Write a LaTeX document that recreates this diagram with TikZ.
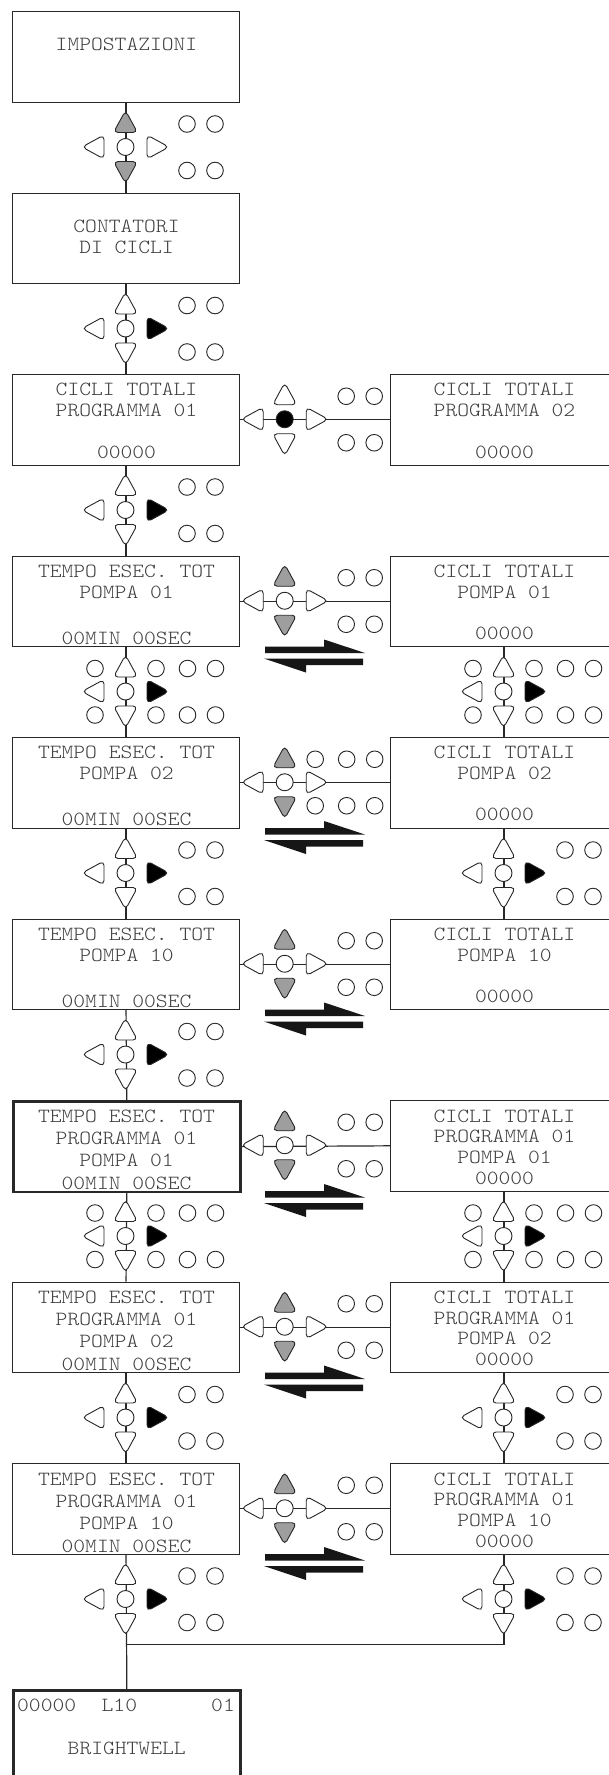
\documentclass[tikz,border=0pt]{standalone}
\usepackage{fontspec}
\newfontfamily\lcd[Extension=.otf,FakeStretch=1.118]{lmmonolt10-regular}
\definecolor{tcol}{RGB}{62,62,62}
\definecolor{lcol}{RGB}{40,40,40}
\definecolor{kgray}{RGB}{158,158,158}
\definecolor{acol}{RGB}{22,22,22}
\tikzset{
  box/.style={draw=lcol, line width=1.1pt, minimum width=227pt, minimum height=90.5pt, inner sep=0pt, anchor=north west},
  thickbox/.style={box, line width=2.7pt},
  txt/.style={font=\lcd\fontsize{20.1}{22}\selectfont, text=tcol, inner sep=0pt, anchor=base},
  txtw/.style={txt, anchor=base west},
  conn/.style={draw=lcol, line width=1.2pt},
  kpl/.style={draw=black!85, line width=0.9pt, rounded corners=4.5pt},
  eqarr/.style={fill=acol},
}
\newcommand\tl[4]{\node[txt] (#1) at (#2,{#3+6.15}) {#4};}
\newcommand\kp[6]{%
  \draw[kpl,fill=#3,shift={(#1,{#2-23.5})}] (0,9) -- (-12,9) -- (0,-13) -- (12,9) -- cycle;
  \draw[kpl,fill=#6,shift={(#1,{#2+23.5})}] (0,-9) -- (-12,-9) -- (0,13) -- (12,-9) -- cycle;
  \draw[kpl,fill=white,shift={({#1-30.5},#2)}] (9,0) -- (9,-12) -- (-13,0) -- (9,12) -- cycle;
  \draw[kpl,fill=#5,shift={({#1+30.5},#2)}] (-9,0) -- (-9,-12) -- (13,0) -- (-9,12) -- cycle;
  \draw[kpl,fill=#4] (#1,#2) circle[radius=8.5];
}
\newcommand\cS[2]{\foreach \dx in {61.5,89.5}{\draw[kpl,fill=white] ({#1+\dx},{#2-23}) circle[radius=8.3]; \draw[kpl,fill=white] ({#1+\dx},{#2+23.5}) circle[radius=8.3];}}
\newcommand\cE[2]{\foreach \dx in {-30.5,30.5,62,90}{\draw[kpl,fill=white] ({#1+\dx},{#2-23}) circle[radius=8.3]; \draw[kpl,fill=white] ({#1+\dx},{#2+23.5}) circle[radius=8.3];}}
\newcommand\cM[2]{\foreach \dx in {30.5,62,90}{\draw[kpl,fill=white] ({#1+\dx},{#2-23}) circle[radius=8.3]; \draw[kpl,fill=white] ({#1+\dx},{#2+23.5}) circle[radius=8.3];}}
\newcommand\eqa[1]{%
  \fill[eqarr] (265,{#1+0.5}) -- (324,{#1+0.5}) -- (324,{#1-6.5}) -- (365,{#1+7}) -- (265,{#1+7}) -- cycle;
  \fill[eqarr] (363,{#1+12.5}) -- (363,{#1+19}) -- (306,{#1+19}) -- (306,{#1+26.5}) -- (264,{#1+12.5}) -- cycle;
}
\begin{document}
\begin{tikzpicture}[x=1pt,y=-1pt]
\useasboundingbox (0,0) rectangle (609,1775);
\clip (0,0) rectangle (609,1775);
\fill[white] (0,0) rectangle (609,1775);

% boxes
\node[box] (L0) at (12,11) {};
\node[box] (L1) at (12,192.5) {};
\node[box] (L2) at (12,374) {};
\node[box] (R2) at (390,374) {};
\node[box] (L3) at (12,555.5) {};
\node[box] (R3) at (390,555.5) {};
\node[box] (L4) at (12,737) {};
\node[box] (R4) at (390,737) {};
\node[box] (L5) at (12,918.5) {};
\node[box] (R5) at (390,918.5) {};
\node[thickbox] (L6) at (12,1100) {};
\node[box] (R6) at (390,1100) {};
\node[box] (L7) at (12,1281.5) {};
\node[box] (R7) at (390,1281.5) {};
\node[box] (L8) at (12,1463) {};
\node[box] (R8) at (390,1463) {};
\node[thickbox, minimum height=130pt] (F) at (12,1689.3) {};

% texts
\tl{t0}{126.5}{44}{IMPOSTAZIONI}
\tl{t1a}{126.5}{226.5}{CONTATORI}
\tl{t1b}{126.5}{247.5}{DI CICLI}
\tl{t2a}{126.5}{389.5}{CICLI TOTALI}
\tl{t2b}{126.5}{410.5}{PROGRAMMA 01}
\tl{t2c}{126.5}{452}{00000}
\tl{u2a}{504.5}{389.5}{CICLI TOTALI}
\tl{u2b}{504.5}{410.5}{PROGRAMMA 02}
\tl{u2c}{504.5}{452}{00000}
\tl{t3a}{126.5}{571}{TEMPO ESEC. TOT}
\tl{t3b}{126.5}{592}{POMPA 01}
\tl{t3c}{126.5}{638}{00MIN 00SEC}
\tl{u3a}{504.5}{571}{CICLI TOTALI}
\tl{u3b}{504.5}{592}{POMPA 01}
\tl{u3c}{504.5}{633}{00000}
\tl{t4a}{126.5}{752.5}{TEMPO ESEC. TOT}
\tl{t4b}{126.5}{773.5}{POMPA 02}
\tl{t4c}{126.5}{819.5}{00MIN 00SEC}
\tl{u4a}{504.5}{752.5}{CICLI TOTALI}
\tl{u4b}{504.5}{773.5}{POMPA 02}
\tl{u4c}{504.5}{814.5}{00000}
\tl{t5a}{126.5}{934}{TEMPO ESEC. TOT}
\tl{t5b}{126.5}{955}{POMPA 10}
\tl{t5c}{126.5}{1001}{00MIN 00SEC}
\tl{u5a}{504.5}{934}{CICLI TOTALI}
\tl{u5b}{504.5}{955}{POMPA 10}
\tl{u5c}{504.5}{996}{00000}
\tl{t6a}{126.5}{1116}{TEMPO ESEC. TOT}
\tl{t6b}{126.5}{1138}{PROGRAMMA 01}
\tl{t6c}{126.5}{1160}{POMPA 01}
\tl{t6d}{126.5}{1183}{00MIN 00SEC}
\tl{u6a}{504.5}{1116}{CICLI TOTALI}
\tl{u6b}{504.5}{1136.5}{PROGRAMMA 01}
\tl{u6c}{504.5}{1157}{POMPA 01}
\tl{u6d}{504.5}{1178}{00000}
\tl{t7a}{126.5}{1297.5}{TEMPO ESEC. TOT}
\tl{t7b}{126.5}{1319.5}{PROGRAMMA 01}
\tl{t7c}{126.5}{1341.5}{POMPA 02}
\tl{t7d}{126.5}{1364.5}{00MIN 00SEC}
\tl{u7a}{504.5}{1297.5}{CICLI TOTALI}
\tl{u7b}{504.5}{1318}{PROGRAMMA 01}
\tl{u7c}{504.5}{1338.5}{POMPA 02}
\tl{u7d}{504.5}{1359.5}{00000}
\tl{t8a}{126.5}{1479}{TEMPO ESEC. TOT}
\tl{t8b}{126.5}{1501}{PROGRAMMA 01}
\tl{t8c}{126.5}{1523}{POMPA 10}
\tl{t8d}{126.5}{1546}{00MIN 00SEC}
\tl{u8a}{504.5}{1479}{CICLI TOTALI}
\tl{u8b}{504.5}{1499.5}{PROGRAMMA 01}
\tl{u8c}{504.5}{1520}{POMPA 10}
\tl{u8d}{504.5}{1541}{00000}
\node[txtw] (f1) at (17,1711.45) {00000};
\node[txtw] (f2) at (101.5,1711.45) {L10};
\node[txtw] (f3) at (211,1711.45) {01};
\tl{f4}{126.7}{1748}{BRIGHTWELL}

% connectors
\draw[conn] (L0.south) -- (L1.north);
\draw[conn] (L1.south) -- (L2.north);
\draw[conn] (L2.south) -- (L3.north);
\draw[conn] (L3.south) -- (L4.north);
\draw[conn] (L4.south) -- (L5.north);
\draw[conn] (L5.south) -- (L6.north);
\draw[conn] (L6.south) -- (L7.north);
\draw[conn] (L7.south) -- (L8.north);
\draw[conn] (L8.south) -- (F.north);
\draw[conn] (R3.south) -- (R4.north);
\draw[conn] (R4.south) -- (R5.north);
\draw[conn] (R6.south) -- (R7.north);
\draw[conn] (R7.south) -- (R8.north);
\coordinate (m) at (125.5,1644.3);
\draw[conn] (R8.south) |- (m);
\draw[conn] (L2.east) -- (R2.west);
\draw[conn] (L3.east) -- (R3.west);
\draw[conn] (L4.east) -- (R4.west);
\draw[conn] (L5.east) -- (R5.west);
\draw[conn] (L6.east) -- (R6.west);
\draw[conn] (L7.east) -- (R7.west);
\draw[conn] (L8.east) -- (R8.west);

% keypads
\kp{125.5}{147}{kgray}{white}{white}{kgray} \cS{125.5}{147}
\kp{125.5}{328.5}{white}{white}{black}{white} \cS{125.5}{328.5}
\kp{284.7}{419.25}{white}{black}{white}{white} \cS{284.7}{419.25}
\kp{125.5}{510}{white}{white}{black}{white} \cS{125.5}{510}
\kp{284.7}{600.75}{kgray}{white}{white}{kgray} \cS{284.7}{600.75}
\kp{125.5}{691.5}{white}{white}{black}{white} \cE{125.5}{691.5}
\kp{503.5}{691.5}{white}{white}{black}{white} \cE{503.5}{691.5}
\kp{284.7}{782.25}{kgray}{white}{white}{kgray} \cM{284.7}{782.25}
\kp{125.5}{873}{white}{white}{black}{white} \cS{125.5}{873}
\kp{503.5}{873}{white}{white}{black}{white} \cS{503.5}{873}
\kp{284.7}{963.75}{kgray}{white}{white}{kgray} \cS{284.7}{963.75}
\kp{125.5}{1054.5}{white}{white}{black}{white} \cS{125.5}{1054.5}
\kp{284.7}{1145.25}{kgray}{white}{white}{kgray} \cS{284.7}{1145.25}
\kp{125.5}{1236}{white}{white}{black}{white} \cE{125.5}{1236}
\kp{503.5}{1236}{white}{white}{black}{white} \cE{503.5}{1236}
\kp{284.7}{1326.75}{kgray}{white}{white}{kgray} \cS{284.7}{1326.75}
\kp{125.5}{1417.5}{white}{white}{black}{white} \cS{125.5}{1417.5}
\kp{503.5}{1417.5}{white}{white}{black}{white} \cS{503.5}{1417.5}
\kp{284.7}{1508.25}{kgray}{white}{white}{kgray} \cS{284.7}{1508.25}
\kp{125.5}{1599}{white}{white}{black}{white} \cS{125.5}{1599}
\kp{503.5}{1599}{white}{white}{black}{white} \cS{503.5}{1599}

% equilibrium arrows
\eqa{646}
\eqa{827.5}
\eqa{1009}
\eqa{1190.5}
\eqa{1372}
\eqa{1553.5}
\end{tikzpicture}
\end{document}
